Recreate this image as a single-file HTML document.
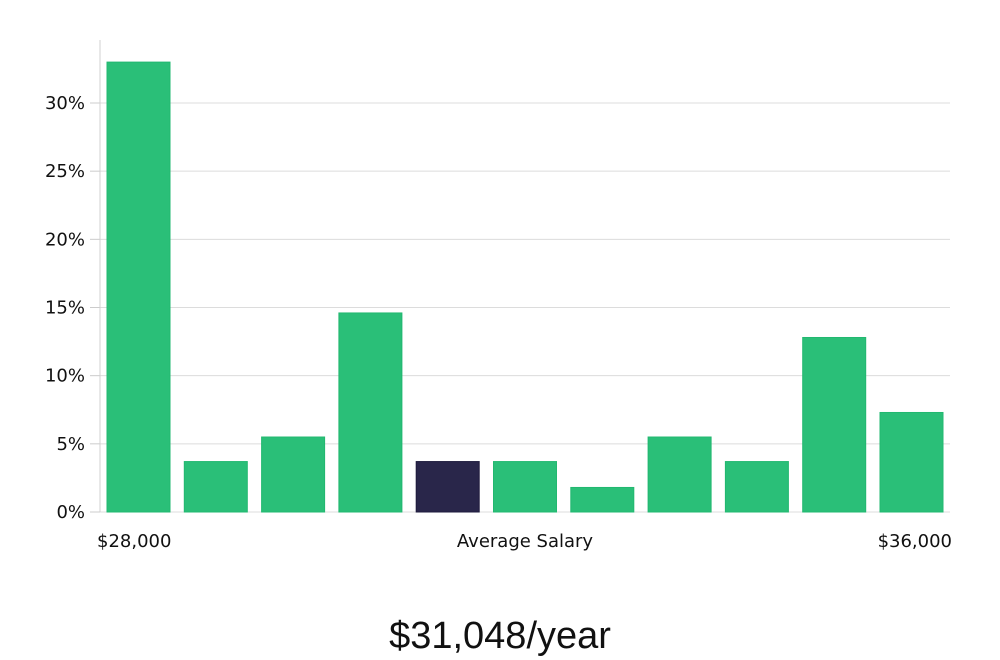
<!DOCTYPE html>
<html><head><meta charset="utf-8">
<style>
html,body{margin:0;padding:0;background:#fff;}
svg{display:block;}
text{font-family:"DejaVu Sans","Liberation Sans",sans-serif;fill:#111;}
</style></head>
<body>
<svg id="chart" width="1000" height="660" viewBox="0 0 1000 660" xmlns="http://www.w3.org/2000/svg">
<g id="grid"></g>
<g id="bars"></g>
<g id="axis"></g>
<text x="97" y="547" font-size="18">$28,000</text>
<text x="525" y="547" font-size="18" text-anchor="middle">Average Salary</text>
<text x="952" y="547" font-size="18" text-anchor="end">$36,000</text>
<text x="500" y="648" font-size="38" text-anchor="middle" style="font-family:'Liberation Sans','DejaVu Sans',sans-serif;font-weight:300;">$31,048/year</text>
</svg>
<script>
const categories = ["b1","b2","b3","b4","b5","b6","b7","b8","b9","b10","b11"];
const values = [33, 3.7, 5.5, 14.6, 3.7, 3.7, 1.8, 5.5, 3.7, 12.8, 7.3];
const highlightIndex = 4;
const tickValues = [0, 5, 10, 15, 20, 25, 30];
const tickLabels = ["0%","5%","10%","15%","20%","25%","30%"];

const NS = "http://www.w3.org/2000/svg";
const y0 = 512, pxPer = (512 - 103) / 30;
const yScale = v => y0 - v * pxPer;
const x0 = 107, step = 77.3, bw = 63;
const xScale = i => x0 + i * step;

const grid = document.getElementById('grid');
const axis = document.getElementById('axis');
const bars = document.getElementById('bars');

tickValues.forEach((t, i) => {
  const y = yScale(t);
  const gl = document.createElementNS(NS, 'line');
  
  
  gl.setAttribute('x1', 100); gl.setAttribute('x2', 950);
  gl.setAttribute('y1', y); gl.setAttribute('y2', y);
  gl.setAttribute('stroke', '#dcdcdc'); gl.setAttribute('stroke-width', 1);
  grid.appendChild(gl);
  const tk = document.createElementNS(NS, 'line');
  
  
  tk.setAttribute('x1', 90); tk.setAttribute('x2', 100);
  tk.setAttribute('y1', y); tk.setAttribute('y2', y);
  tk.setAttribute('stroke', '#ccc'); tk.setAttribute('stroke-width', 1);
  axis.appendChild(tk);
  const tx = document.createElementNS(NS, 'text');
  
  
  tx.setAttribute('x', 85); tx.setAttribute('y', y + 6);
  tx.setAttribute('font-size', 18); tx.setAttribute('text-anchor', 'end');
  tx.textContent = tickLabels[i];
  axis.appendChild(tx);
});
const al = document.createElementNS(NS, 'line');


al.setAttribute('x1', 100); al.setAttribute('x2', 100);
al.setAttribute('y1', 40); al.setAttribute('y2', 512);
al.setAttribute('stroke', '#d0d0d0');
axis.appendChild(al);

values.forEach((v, i) => {
  const r = document.createElementNS(NS, 'rect');
  
  
  r.setAttribute('x', xScale(i));
  r.setAttribute('y', yScale(v));
  r.setAttribute('width', bw);
  r.setAttribute('height', y0 - yScale(v));
  const hl = i === highlightIndex;
  r.setAttribute('fill', hl ? '#29264a' : '#2abf78');
  r.setAttribute('stroke', hl ? '#1e1b3d' : '#22b870');
  r.setAttribute('stroke-width', 1);
  bars.appendChild(r);
});
</script>
</body></html>
